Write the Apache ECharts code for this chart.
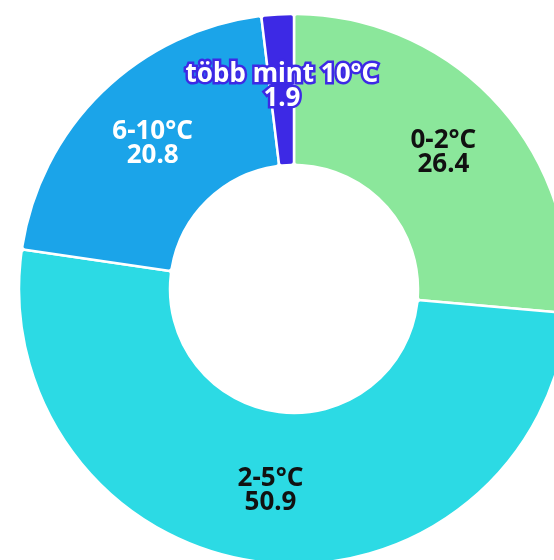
<!DOCTYPE html>
<html>
<head>
<meta charset="utf-8">
<script src="https://cdn.jsdelivr.net/npm/echarts@6/dist/echarts.min.js"></script>
<style>
    html, body { margin: 0; padding: 0; background: #fff; }
    #chart { width: 554px; height: 560px; }
</style>
</head>
<body>
<div id="chart"></div>
<script>
// adatok
const categories = ['0-2°C', '2-5°C', '6-10°C', 'több mint 10°C']
const values = [26.4, 50.9, 20.8, 1.9]
const colors = ['#8be79b', '#2cdae4', '#1ba4e9', '#3d29e5']
const labelColors = ['#111111', '#111111', '#ffffff', '#ffffff']

const chart = echarts.init(document.getElementById('chart'))

const option = {
    animation: false,
    series: [
        {
            type: 'pie',
            center: [294, 289],
            radius: [124, 275],
            startAngle: 90,
            clockwise: true,
            itemStyle: {
                borderColor: '#ffffff',
                borderWidth: 2.5,
                borderRadius: 3
            },
            label: {
                show: true,
                position: 'inside',
                formatter: '{b}\n{c}',
                fontFamily: 'Noto Sans',
                fontWeight: 'bold',
                fontSize: 26,
                lineHeight: 24
            },
            labelLine: { show: false },
            data: categories.map((name, i) => ({
                name: name,
                value: values[i],
                itemStyle: { color: colors[i] },
                label: {
                    color: labelColors[i],
                    textBorderColor: colors[i],
                    textBorderWidth: i === 3 ? 5 : 0
                }
            }))
        }
    ]
}

chart.setOption(option)
</script>
</body>
</html>
